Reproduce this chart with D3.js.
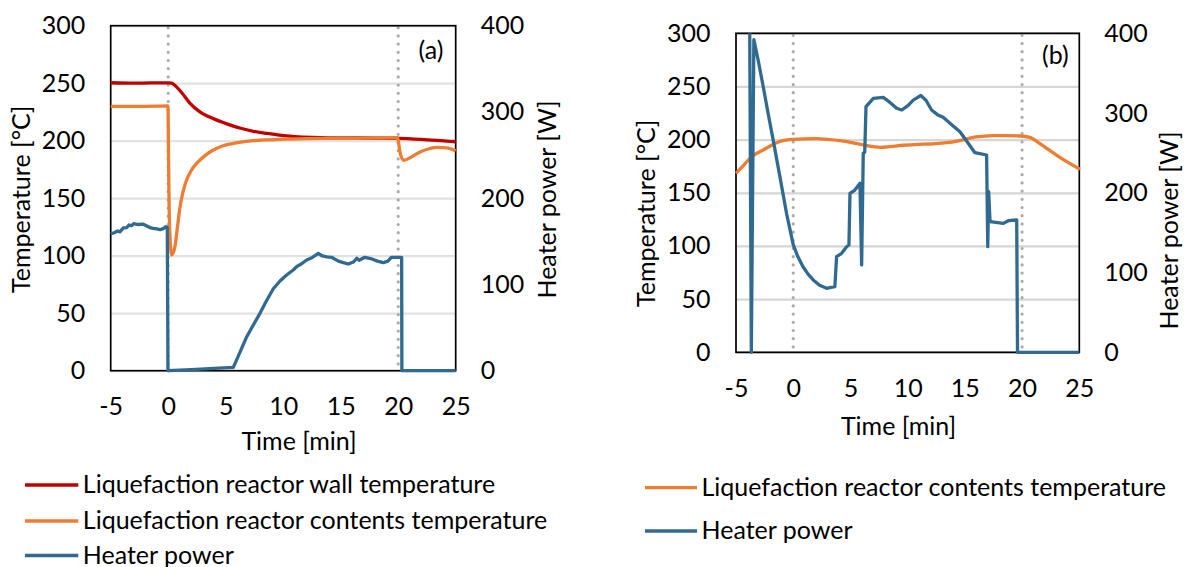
<!DOCTYPE html>
<html>
<head>
<meta charset="utf-8">
<script src="https://cdn.jsdelivr.net/npm/d3@7"></script>
<style>
  body { margin: 0; background: #fff; }
  svg { display: block; font-family: Lato, "Open Sans", sans-serif; }
  .tick text { font-size: 25px; fill: #000; }
  .grid line { stroke: #d9d9d9; stroke-width: 2.2; }
  .title { font-size: 25px; fill: #000; }
</style>
</head>
<body>
<svg id="chart" width="1185" height="567"></svg>
<script>
// time in minutes, temperature in °C, heater power in W
const wallA = [[-5,250.4],[-3,250],[-1.5,250.3],[0,250.3],[0.3,250],[0.7,247],[1.2,241.5],[1.9,232.5],
  [2.7,225.5],[3.9,219.2],[5.3,214],[6.3,210.8],[7.4,208.2],[8.6,206.3],[9.7,204.8],[11,203.6],
  [12.5,202.8],[14,202.5],[16,202.4],[18,202.3],[20,202.1],[22,201.2],[24,199.8],[25,199.1]];

const contentsA = [[-5,229.8],[-3,229.8],[-1,230],[-0.02,230.2],[0.03,185],[0.08,143],[0.16,116.5],
  [0.3,100.6],[0.45,103],[0.59,108],[0.74,119.5],[1.03,142.6],[1.3,156],[1.6,165.8],[2,174],
  [2.48,180.3],[3.2,187],[3.92,191.9],[4.6,195],[5.37,197.1],[6.3,198.8],[7.4,200],[8.5,200.7],
  [9.7,201.2],[12,201.8],[15,202.2],[18,202.4],[19.95,202.6],[20.05,197],[20.2,188],[20.5,183],
  [20.9,184.5],[21.9,190.2],[22.7,193],[23.4,194.2],[24.2,193.8],[25,191.3]];

const heaterA = [[-5,158.5],[-4.7,160],[-4.4,162],[-4.2,161],[-3.9,165.5],[-3.6,166],[-3.4,169],
  [-3.2,168],[-3,170.5],[-2.6,169.5],[-2.2,170],[-1.9,168],[-1.6,166],[-1.3,165],[-1,164.5],
  [-0.7,163.5],[-0.4,165],[-0.2,167],[-0.08,166],[-0.02,0],[2,1.3],[4,2.6],[5.66,3.9],[6.2,20],
  [6.83,39.4],[7.4,53],[7.98,66.5],[8.5,80],[9.14,95],[9.72,104],[10.3,111],[10.9,117],[11.17,120.6],
  [11.6,124],[12.04,128.3],[12.5,131],[13.05,136],[13.4,133],[13.8,132],[14.2,131.5],[14.8,127],
  [15.3,125],[15.66,123.7],[16.1,126],[16.4,130.3],[16.6,128],[17.1,131.5],[17.6,130],[18.2,127],
  [18.7,125.2],[19.1,127],[19.4,131.5],[20.3,131.5],[20.32,0],[25,0]];

const contentsB = [[-5,168.3],[-4.4,175],[-3.79,182.4],[-3.2,187],[-2.62,190.3],[-2,194],[-1.45,197.1],
  [-0.8,199.2],[0,200.3],[1,200.8],[2.04,200.9],[3,200.2],[4.08,199],[5,197.5],[6.12,195],[7,193.4],
  [7.58,192.8],[8.5,193.5],[9.62,194.7],[11,195.6],[12,195.9],[13,196.8],[14,198],[15,200.2],
  [15.73,202.2],[16.5,203],[17.48,203.7],[18.5,203.7],[19.8,203.4],[20.69,202.2],[21.4,197.5],
  [22.15,191.8],[23,185.5],[23.9,179.3],[24.5,175.5],[25.06,172.1]];

const heaterB = [[-3.8,400],[-3.66,0],[-3.44,392],[-3.06,366],[-2.62,333],[-2.2,300],[-1.75,266],
  [-1.16,220],[-0.58,174],[0,135],[0.4,120],[0.87,107],[1.3,98],[1.75,90.7],[2.3,84],[2.92,80.2],
  [3.3,81.5],[3.64,82.3],[3.79,119.9],[4.23,124.1],[4.67,132.4],[4.87,134.5],[4.96,199.4],[5.39,203.5],
  [5.83,211.9],[5.98,109.5],[6.12,249.5],[6.25,251],[6.36,308],[7,318.5],[7.87,319.7],[8.4,314],
  [9.04,306],[9.48,303.8],[10,309],[10.49,316.3],[11.15,322],[11.6,316],[12.09,303.8],[12.6,298],
  [13.1,294.6],[13.8,286],[14.57,276.6],[15.2,264],[15.88,250.3],[16.9,247.4],[17,132.4],[17.08,201.4],
  [17.2,163.8],[18.36,161.7],[18.8,165],[19.53,165.9],[19.6,0],[25,0]];

const timeTicks = [-5, 0, 5, 10, 15, 20, 25];
const tempTicks = [0, 50, 100, 150, 200, 250, 300];
const powerTicks = [0, 100, 200, 300, 400];
const markers = [0, 20];

const legendA = ["Liquefaction reactor wall temperature", "Liquefaction reactor contents temperature", "Heater power"];
const legendB = ["Liquefaction reactor contents temperature", "Heater power"];

const colors = { wall: "#c00000", contents: "#ed7d31", heater: "#316a91" };

const svg = d3.select("#chart");
const plain = d => String(d);

function panel(cfg) {
  const x = d3.scaleLinear().domain([-5, 25]).range([cfg.x0, cfg.x1]);
  const yT = d3.scaleLinear().domain([0, 300]).range([cfg.y1, cfg.y0]);
  const yP = d3.scaleLinear().domain([0, 400]).range([cfg.y1, cfg.y0]);
  const w = cfg.x1 - cfg.x0;
  const g = svg.append("g");

  // horizontal gridlines
  g.append("g").attr("class", "grid")
    .attr("transform", `translate(${cfg.x0},0)`)
    .call(d3.axisLeft(yT).tickValues(tempTicks).tickSize(-w).tickFormat(""))
    .call(s => s.select(".domain").remove())
    .selectAll("line").style("stroke", cfg.grid);

  // dotted markers at the start and end of the interval
  g.selectAll(".marker").data(markers).join("line")
    .attr("x1", d => x(d)).attr("x2", d => x(d))
    .attr("y1", cfg.y0 + 2).attr("y2", cfg.y1)
    .attr("stroke", "#aaaaaa").attr("stroke-width", 3.2)
    .attr("stroke-linecap", "round").attr("stroke-dasharray", "0 8.2");

  g.append("rect")
    .attr("x", cfg.x0).attr("y", cfg.y0).attr("width", w).attr("height", cfg.y1 - cfg.y0)
    .attr("fill", "none").attr("stroke", "#000").attr("stroke-width", 1.7);

  // axes: labels only
  const left = g.append("g").attr("transform", `translate(${cfg.x0},0)`)
    .call(d3.axisLeft(yT).tickValues(tempTicks).tickFormat(plain).tickSize(0).tickPadding(25.5));
  const right = g.append("g").attr("transform", `translate(${cfg.x1},0)`)
    .call(d3.axisRight(yP).tickValues(powerTicks).tickFormat(plain).tickSize(0).tickPadding(25));
  const bottom = g.append("g").attr("transform", `translate(0,${cfg.y1})`)
    .call(d3.axisBottom(x).tickValues(timeTicks).tickFormat(plain).tickSize(0).tickPadding(27));
  [left, right, bottom].forEach(a => {
    a.select(".domain").remove();
    a.attr("font-family", null).attr("font-size", null);
  });

  const line = (ys) => d3.line().x(d => x(d[0])).y(d => ys(d[1]));
  const series = [
    { data: cfg.wall, y: yT, color: colors.wall, curve: d3.curveMonotoneX },
    { data: cfg.contents, y: yT, color: colors.contents, curve: d3.curveMonotoneX },
    { data: cfg.heater, y: yP, color: colors.heater, curve: d3.curveLinear }
  ].filter(s => s.data);
  g.selectAll(".series").data(series).join("path")
    .attr("fill", "none")
    .attr("stroke", s => s.color).attr("stroke-width", 3.3)
    .attr("stroke-linejoin", "round")
    .attr("d", s => line(s.y).curve(s.curve)(s.data));

  g.append("text").attr("class", "title")
    .attr("x", cfg.tag[1]).attr("y", cfg.tag[2]).attr("dy", "0.35em")
    .attr("text-anchor", "middle").text(cfg.tag[0]);

  const title = (txt, px, py, rot) => g.append("text").attr("class", "title")
    .attr("transform", `translate(${px},${py}) rotate(${rot})`)
    .attr("text-anchor", "middle").attr("dy", "0.35em").text(txt);
  title("Temperature [°C]", cfg.tempTitle[0], cfg.tempTitle[1], -90);
  title("Heater power [W]", cfg.powerTitle[0], cfg.powerTitle[1], -90);
  title("Time [min]", cfg.timeTitle[0], cfg.timeTitle[1], 0);

  // legend below the plot
  const lg = g.append("g").selectAll("g").data(cfg.legend).join("g")
    .attr("transform", (d, i) => `translate(${cfg.legendX},${cfg.legendY[i]})`);
  lg.append("line").attr("x1", 0).attr("x2", cfg.legendLen)
    .attr("stroke", d => d.color).attr("stroke-width", 3.3);
  lg.append("text").attr("class", "title")
    .attr("x", cfg.legendLen + 4.5).attr("dy", "0.32em").text(d => d.label);
}

panel({
  x0: 110.7, x1: 455.7, y0: 25.7, y1: 370.7, grid: "#e2e2e2",
  wall: wallA, contents: contentsA, heater: heaterA,
  tag: ["(a)", 431, 50],
  tempTitle: [21.7, 199.3], powerTitle: [547.7, 199.5], timeTitle: [299, 441.7],
  legendX: 25, legendLen: 53.3, legendY: [485, 521, 555.5],
  legend: legendA.map((l, i) => ({ label: l, color: [colors.wall, colors.contents, colors.heater][i] }))
});

panel({
  x0: 736, x1: 1079.3, y0: 33.3, y1: 352.3, grid: "#d6d6d6",
  contents: contentsB, heater: heaterB,
  tag: ["(b)", 1055.3, 55],
  tempTitle: [646.7, 213.3], powerTitle: [1169.5, 230.5], timeTitle: [898.5, 426.7],
  legendX: 645, legendLen: 52, legendY: [487.7, 531],
  legend: legendB.map((l, i) => ({ label: l, color: [colors.contents, colors.heater][i] }))
});
</script>
</body>
</html>
